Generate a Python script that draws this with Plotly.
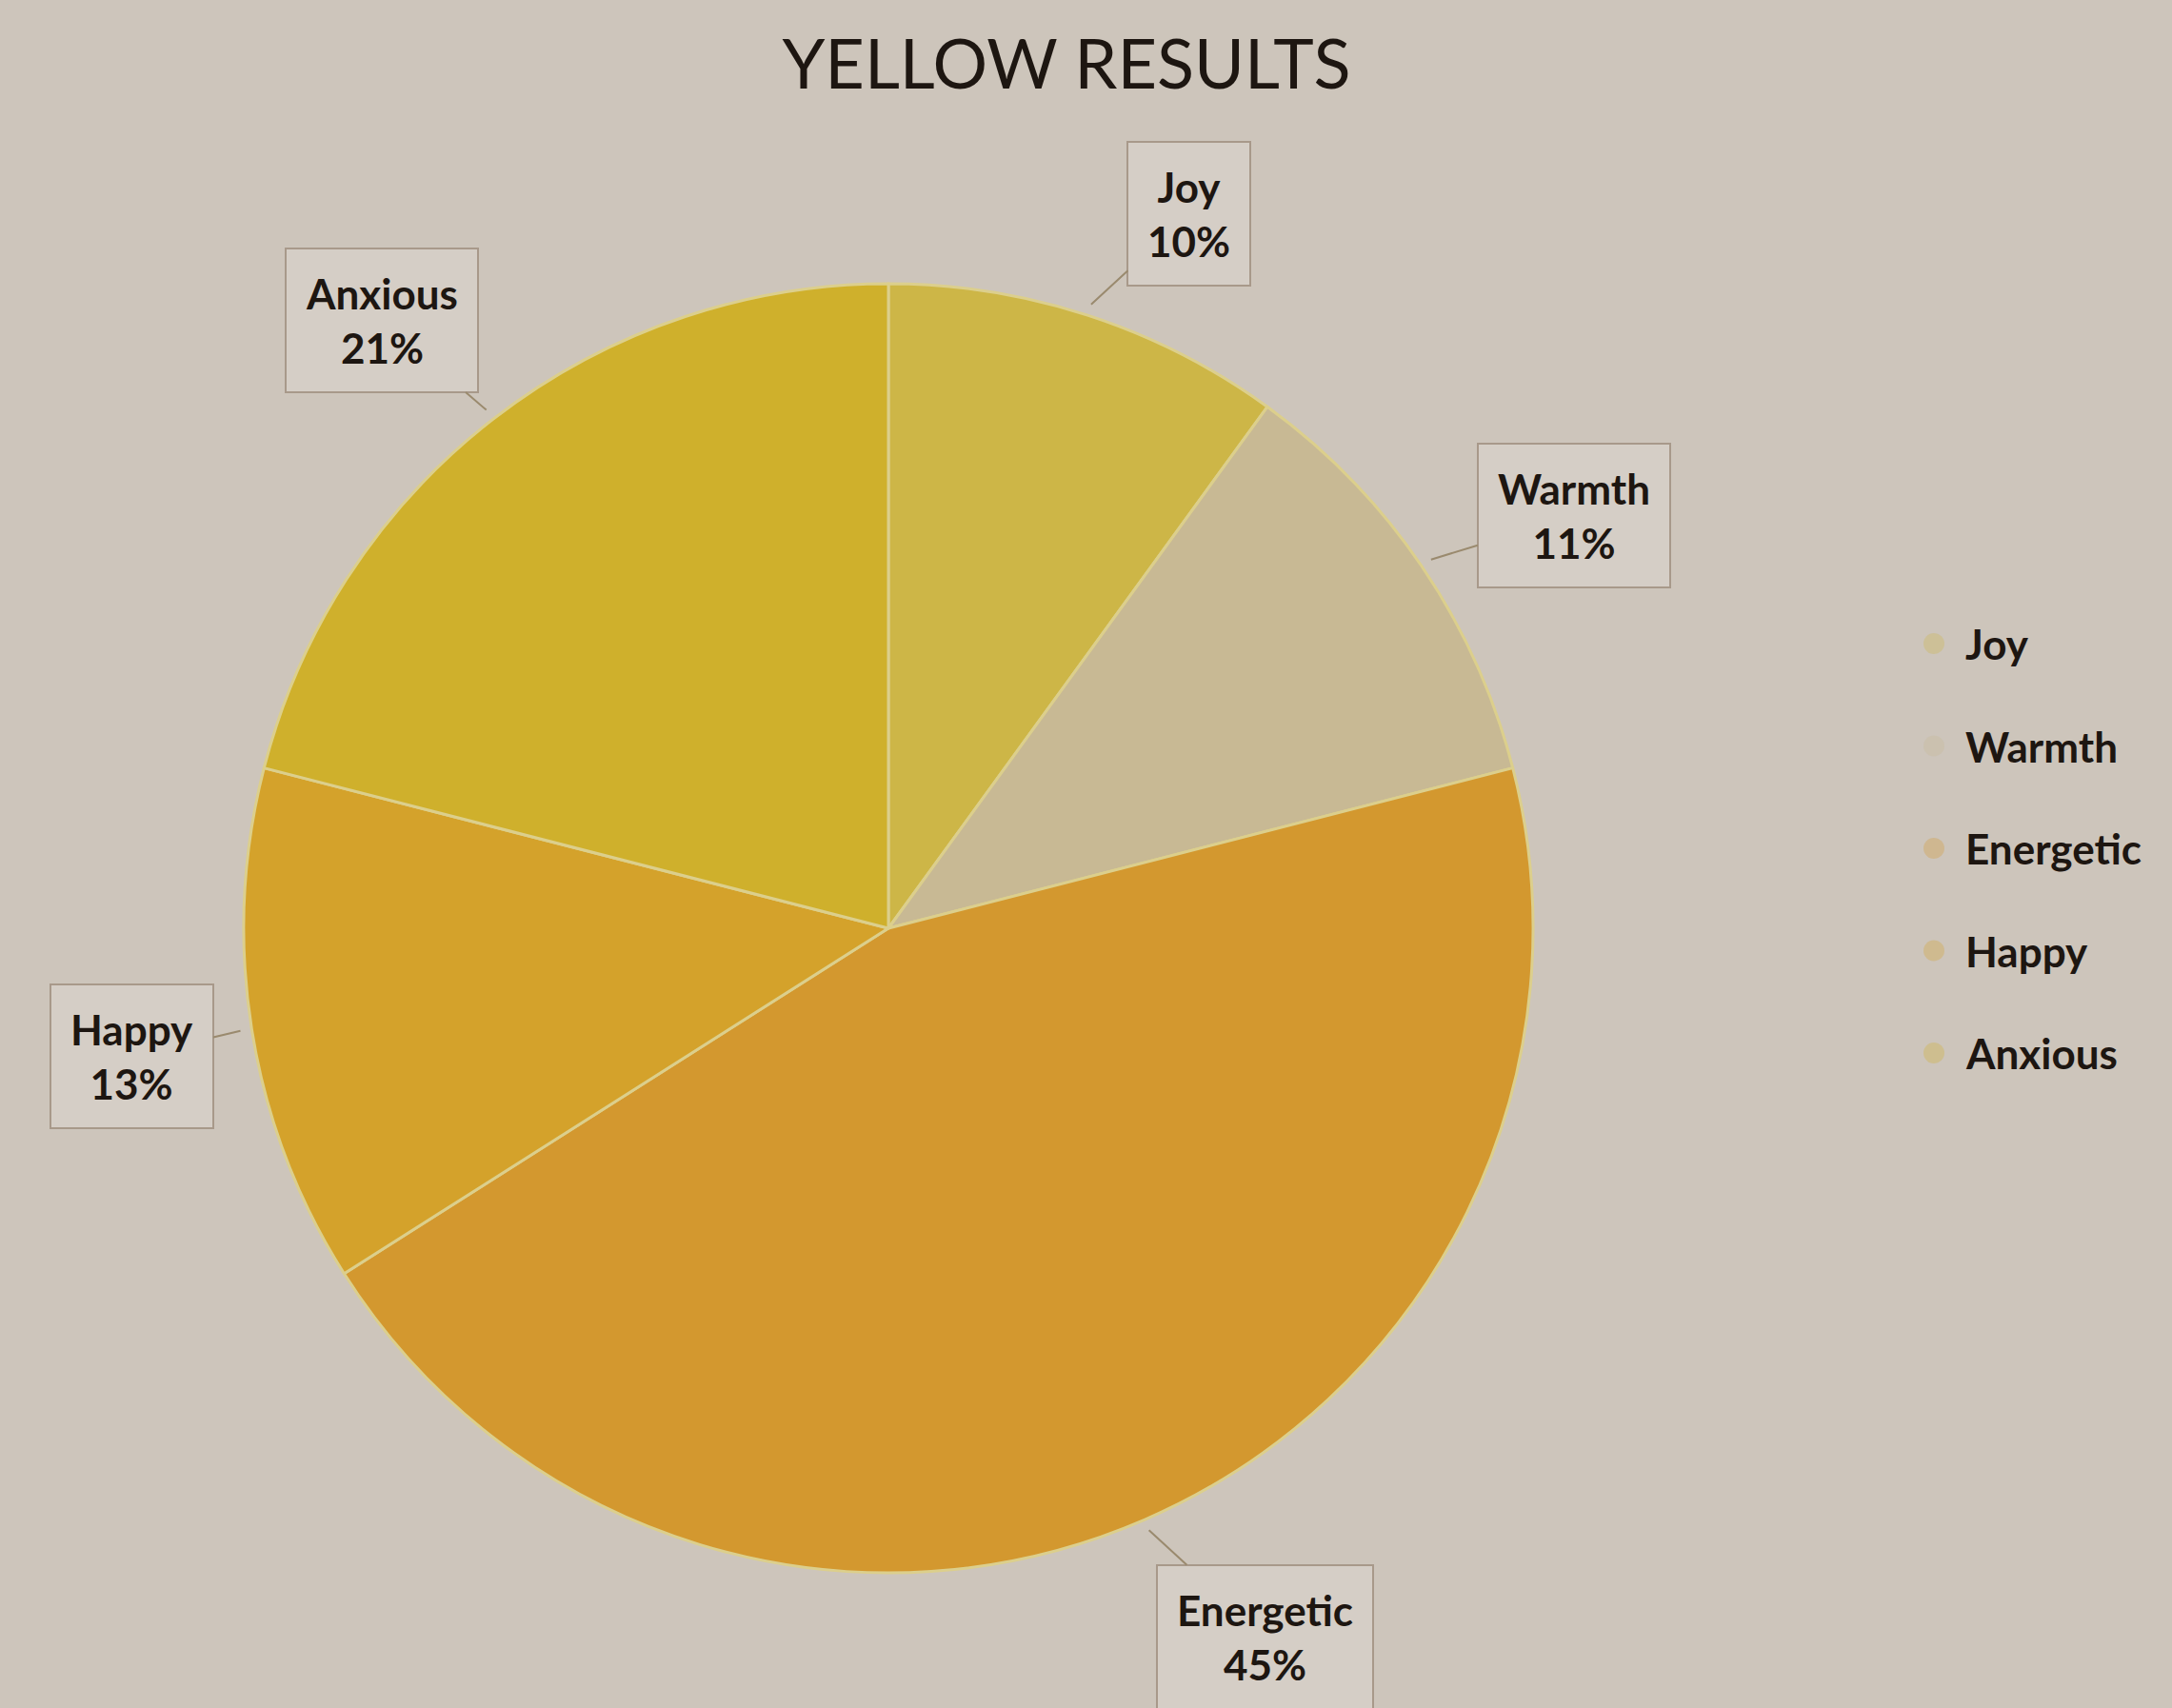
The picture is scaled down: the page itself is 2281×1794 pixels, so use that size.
import math
import plotly.graph_objects as go

# Survey results for the colour yellow (percent of responses)
LABELS = ["Joy", "Warmth", "Energetic", "Happy", "Anxious"]
VALUES = [10, 11, 45, 13, 21]
COLORS = ["#cdb647", "#c8b994", "#d3982f", "#d4a22b", "#cfb02c"]
TITLE = "YELLOW RESULTS"

# Canvas and pie geometry (pixels)
W, H = 2281, 1794
CX, CY, R = 933, 975, 677
PAPER = "#cdc5bb"
INK = "#1d1611"

# Data-label box offsets from the leader-line tip (pixels)
LABEL_OFFSETS = [(103, -95), (150, -46), (122, 112), (-114, 27), (-110, -94)]

fig = go.Figure()
fig.add_trace(go.Pie(
    labels=LABELS,
    values=VALUES,
    sort=False,
    direction="clockwise",
    rotation=0,
    textinfo="none",
    hoverinfo="label+percent",
    marker=dict(colors=COLORS, line=dict(color="#dccf8c", width=3)),
    domain=dict(x=[(CX - R) / W, (CX + R) / W],
                y=[(H - CY - R) / H, (H - CY + R) / H]),
    showlegend=False,
))

# Boxed data labels with leader lines pointing at each slice's middle angle
total = sum(VALUES)
cum = 0
annotations = []
for lab, val, (ax, ay) in zip(LABELS, VALUES, LABEL_OFFSETS):
    mid = math.radians(360 * (cum + val / 2) / total)
    cum += val
    tip_x = CX + (R + 12) * math.sin(mid)
    tip_y = CY - (R + 12) * math.cos(mid)
    annotations.append(dict(
        x=tip_x / W, y=1 - tip_y / H, xref="paper", yref="paper",
        text=f"<b>{lab}</b><br><b>{val}%</b>",
        showarrow=True, arrowhead=0, arrowwidth=2, arrowcolor="#9a8a6e",
        ax=ax, ay=ay, axref="pixel", ayref="pixel", standoff=0,
        font=dict(family="Lato", size=44, color=INK),
        align="center",
        bgcolor="#d5cec6", bordercolor="#a8998a", borderwidth=2, borderpad=20,
    ))

# Legend drawn as a column of labels with faint colour dots
LEG_X, LEG_Y0, LEG_STEP = 2062, 676, 107.5
shapes = []
for i, (lab, col) in enumerate(zip(LABELS, COLORS)):
    y = LEG_Y0 + i * LEG_STEP
    annotations.append(dict(
        x=LEG_X / W, y=1 - y / H, xref="paper", yref="paper",
        text=f"<b>{lab}</b>", showarrow=False, xanchor="left", yanchor="middle",
        font=dict(family="Lato", size=44, color=INK),
    ))
    shapes.append(dict(
        type="circle", xref="paper", yref="paper",
        x0=(LEG_X - 42) / W, x1=(LEG_X - 20) / W,
        y0=1 - (y + 11) / H, y1=1 - (y - 11) / H,
        fillcolor=col, opacity=0.3, line=dict(width=0),
    ))

fig.update_layout(
    width=W, height=H,
    margin=dict(l=0, r=0, t=0, b=0),
    paper_bgcolor=PAPER, plot_bgcolor=PAPER,
    title=dict(text=TITLE, x=1120 / W, y=1 - 68 / H, xanchor="center", yanchor="middle",
               font=dict(family="Lato", size=72, color=INK)),
    annotations=annotations,
    shapes=shapes,
    showlegend=False,
)

fig.write_html("out.html")
